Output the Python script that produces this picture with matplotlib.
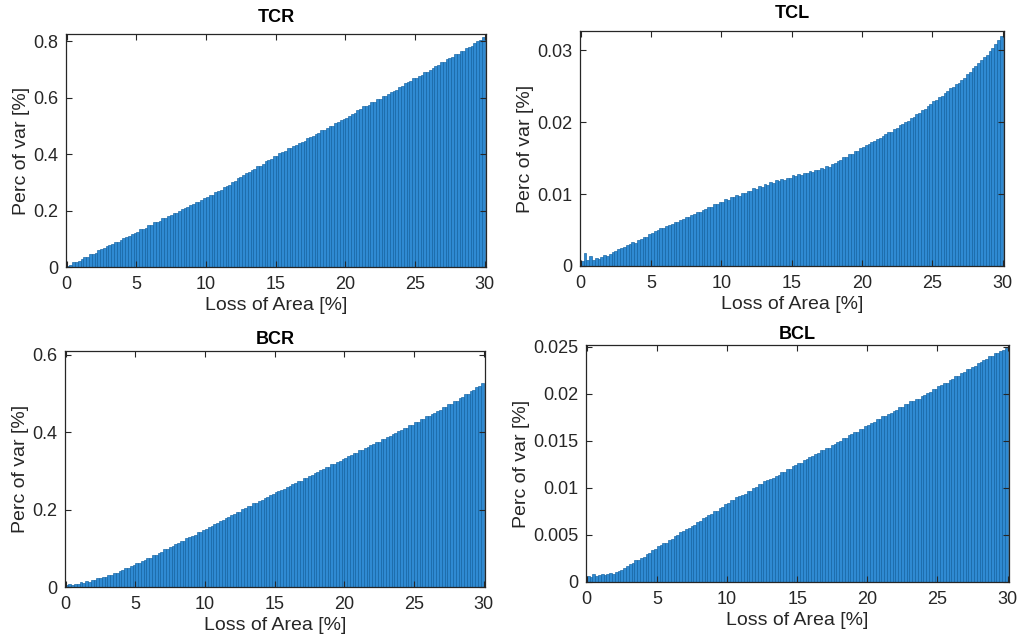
import numpy as np
import matplotlib
matplotlib.use("Agg")
import matplotlib.pyplot as plt
from matplotlib.ticker import FixedLocator, FuncFormatter

plt.rcParams['font.family'] = ['Liberation Sans', 'DejaVu Sans']

# bin centres (Loss of Area [%]), width 0.2
loss_area = np.arange(0.1, 30.0, 0.2)

titles = ["TCR", "TCL", "BCR", "BCL"]
xlabel = "Loss of Area [%]"
ylabel = "Perc of var [%]"

tcr = [
    0.005, 0.008, 0.016, 0.017, 0.021, 0.030, 0.034, 0.037, 0.046, 0.046, 0.050, 0.059, 0.063, 0.066, 0.075,
    0.078, 0.080, 0.089, 0.090, 0.095, 0.104, 0.107, 0.109, 0.118, 0.119, 0.123, 0.133, 0.136, 0.139, 0.148,
    0.149, 0.158, 0.160, 0.163, 0.172, 0.173, 0.181, 0.183, 0.192, 0.193, 0.197, 0.206, 0.209, 0.212, 0.221,
    0.222, 0.231, 0.232, 0.237, 0.246, 0.247, 0.255, 0.257, 0.267, 0.268, 0.273, 0.284, 0.287, 0.291, 0.301,
    0.306, 0.314, 0.318, 0.325, 0.333, 0.336, 0.345, 0.349, 0.358, 0.359, 0.365, 0.375, 0.379, 0.383, 0.393,
    0.395, 0.405, 0.407, 0.411, 0.421, 0.421, 0.430, 0.433, 0.441, 0.443, 0.447, 0.457, 0.461, 0.463, 0.473,
    0.475, 0.485, 0.487, 0.491, 0.501, 0.501, 0.510, 0.513, 0.521, 0.523, 0.529, 0.537, 0.541, 0.545, 0.555,
    0.559, 0.569, 0.571, 0.575, 0.585, 0.585, 0.594, 0.597, 0.605, 0.607, 0.613, 0.621, 0.625, 0.629, 0.639,
    0.643, 0.653, 0.655, 0.659, 0.669, 0.671, 0.678, 0.681, 0.691, 0.691, 0.697, 0.707, 0.711, 0.715, 0.725,
    0.727, 0.737, 0.741, 0.743, 0.755, 0.755, 0.765, 0.767, 0.777, 0.779, 0.785, 0.795, 0.801, 0.805, 0.815,
]

tcl = [
    0.0007, 0.0018, 0.0008, 0.0014, 0.0009, 0.0011, 0.0010, 0.0013, 0.0015, 0.0014, 0.0017, 0.0019, 0.0021, 0.0024, 0.0025,
    0.0027, 0.0029, 0.0030, 0.0033, 0.0032, 0.0036, 0.0037, 0.0041, 0.0041, 0.0045, 0.0046, 0.0049, 0.0050, 0.0053, 0.0053,
    0.0056, 0.0057, 0.0058, 0.0061, 0.0061, 0.0064, 0.0065, 0.0068, 0.0068, 0.0071, 0.0072, 0.0075, 0.0075, 0.0078, 0.0079,
    0.0082, 0.0082, 0.0086, 0.0086, 0.0089, 0.0089, 0.0093, 0.0092, 0.0096, 0.0096, 0.0099, 0.0098, 0.0102, 0.0101, 0.0105,
    0.0104, 0.0108, 0.0107, 0.0111, 0.0110, 0.0114, 0.0113, 0.0117, 0.0116, 0.0119, 0.0118, 0.0121, 0.0120, 0.0123, 0.0122,
    0.0126, 0.0125, 0.0128, 0.0127, 0.0130, 0.0129, 0.0132, 0.0131, 0.0134, 0.0133, 0.0136, 0.0135, 0.0139, 0.0138, 0.0142,
    0.0143, 0.0146, 0.0147, 0.0151, 0.0152, 0.0156, 0.0156, 0.0160, 0.0160, 0.0164, 0.0165, 0.0168, 0.0170, 0.0173, 0.0174,
    0.0177, 0.0178, 0.0181, 0.0183, 0.0186, 0.0187, 0.0191, 0.0192, 0.0196, 0.0197, 0.0201, 0.0202, 0.0206, 0.0207, 0.0211,
    0.0213, 0.0217, 0.0219, 0.0223, 0.0225, 0.0229, 0.0231, 0.0235, 0.0237, 0.0241, 0.0243, 0.0247, 0.0249, 0.0253, 0.0255,
    0.0259, 0.0262, 0.0267, 0.0270, 0.0275, 0.0278, 0.0283, 0.0286, 0.0291, 0.0294, 0.0299, 0.0303, 0.0309, 0.0315, 0.0320,
]

bcr = [
    0.004, 0.007, 0.005, 0.009, 0.008, 0.012, 0.011, 0.015, 0.014, 0.018, 0.018, 0.022, 0.022, 0.027, 0.027,
    0.032, 0.032, 0.037, 0.037, 0.042, 0.043, 0.048, 0.049, 0.054, 0.056, 0.061, 0.062, 0.068, 0.069, 0.075,
    0.076, 0.082, 0.084, 0.089, 0.091, 0.097, 0.098, 0.104, 0.106, 0.111, 0.113, 0.119, 0.120, 0.126, 0.128,
    0.133, 0.135, 0.141, 0.142, 0.148, 0.150, 0.155, 0.157, 0.163, 0.165, 0.171, 0.172, 0.178, 0.180, 0.186,
    0.188, 0.194, 0.195, 0.201, 0.203, 0.209, 0.210, 0.216, 0.218, 0.223, 0.225, 0.231, 0.232, 0.238, 0.240,
    0.245, 0.247, 0.252, 0.254, 0.259, 0.261, 0.267, 0.268, 0.274, 0.275, 0.281, 0.283, 0.288, 0.290, 0.295,
    0.297, 0.302, 0.304, 0.310, 0.311, 0.317, 0.318, 0.324, 0.326, 0.331, 0.333, 0.338, 0.340, 0.346, 0.347,
    0.353, 0.354, 0.360, 0.362, 0.367, 0.369, 0.374, 0.376, 0.382, 0.383, 0.389, 0.390, 0.396, 0.398, 0.403,
    0.405, 0.411, 0.412, 0.418, 0.420, 0.426, 0.427, 0.433, 0.435, 0.441, 0.442, 0.448, 0.450, 0.456, 0.458,
    0.464, 0.466, 0.472, 0.474, 0.480, 0.482, 0.489, 0.491, 0.498, 0.500, 0.507, 0.509, 0.517, 0.520, 0.528,
]

bcl = [
    0.0006, 0.0005, 0.0009, 0.0006, 0.0007, 0.0008, 0.0007, 0.0009, 0.0010, 0.0009, 0.0011, 0.0012, 0.0013, 0.0015, 0.0017,
    0.0019, 0.0020, 0.0023, 0.0023, 0.0026, 0.0027, 0.0030, 0.0031, 0.0034, 0.0035, 0.0038, 0.0039, 0.0042, 0.0042, 0.0045,
    0.0046, 0.0049, 0.0050, 0.0053, 0.0054, 0.0056, 0.0057, 0.0060, 0.0061, 0.0064, 0.0065, 0.0068, 0.0069, 0.0071, 0.0072,
    0.0075, 0.0076, 0.0079, 0.0080, 0.0083, 0.0084, 0.0087, 0.0087, 0.0090, 0.0091, 0.0093, 0.0094, 0.0097, 0.0097, 0.0100,
    0.0101, 0.0104, 0.0104, 0.0107, 0.0108, 0.0110, 0.0111, 0.0113, 0.0114, 0.0117, 0.0117, 0.0120, 0.0120, 0.0123, 0.0124,
    0.0127, 0.0127, 0.0130, 0.0131, 0.0133, 0.0134, 0.0136, 0.0137, 0.0140, 0.0140, 0.0143, 0.0143, 0.0146, 0.0147, 0.0149,
    0.0150, 0.0153, 0.0153, 0.0156, 0.0157, 0.0159, 0.0160, 0.0163, 0.0163, 0.0166, 0.0167, 0.0169, 0.0170, 0.0173, 0.0173,
    0.0176, 0.0177, 0.0179, 0.0180, 0.0182, 0.0183, 0.0186, 0.0186, 0.0189, 0.0189, 0.0192, 0.0192, 0.0195, 0.0195, 0.0198,
    0.0199, 0.0201, 0.0202, 0.0205, 0.0205, 0.0208, 0.0209, 0.0212, 0.0212, 0.0215, 0.0216, 0.0219, 0.0219, 0.0222, 0.0223,
    0.0226, 0.0226, 0.0229, 0.0230, 0.0233, 0.0234, 0.0236, 0.0237, 0.0240, 0.0240, 0.0243, 0.0244, 0.0246, 0.0247, 0.0249,
]

series = [tcr, tcl, bcr, bcl]
yticks = [
    [0, 0.2, 0.4, 0.6, 0.8],
    [0, 0.01, 0.02, 0.03],
    [0, 0.2, 0.4, 0.6],
    [0, 0.005, 0.01, 0.015, 0.02, 0.025],
]
ylims = [(0, 0.826), (0, 0.0327), (0, 0.61), (0, 0.0252)]
xticks = [0, 5, 10, 15, 20, 25, 30]
title_pads = [9.0, 9.0, 5.0, 4.0]

W, H = 1022, 641
# axes boxes in pixels: left, top, right, bottom
boxes = [
    (66, 34, 486, 267),
    (580, 31, 1004, 266),
    (65, 351, 485, 587),
    (586, 345, 1009, 582),
]

FACE = '#2F8AD2'
EDGE = '#10609F'
AX = '#262626'

fig = plt.figure(figsize=(W / 100, H / 100), dpi=100)
for i in range(4):
    l, t, r, b = boxes[i]
    ax = fig.add_axes([l / W, 1 - b / H, (r - l) / W, (b - t) / H])
    ax.bar(loss_area, series[i], width=0.2, align='center',
           color=FACE, edgecolor=EDGE, linewidth=0.45)
    ax.set_xlim(-0.05, 30.1)
    ax.set_ylim(*ylims[i])
    ax.xaxis.set_major_locator(FixedLocator(xticks))
    ax.yaxis.set_major_locator(FixedLocator(yticks[i]))
    ax.yaxis.set_major_formatter(FuncFormatter(lambda v, p: '%g' % v))
    ax.xaxis.set_major_formatter(FuncFormatter(lambda v, p: '%g' % v))
    ax.tick_params(direction='in', length=4, width=0.8, colors=AX,
                   labelsize=13, top=True, right=True)
    ax.tick_params(axis='x', pad=6.5)
    ax.tick_params(axis='y', pad=5.5)
    for s in ax.spines.values():
        s.set_color(AX)
        s.set_linewidth(0.9)
    ax.set_xlabel(xlabel, fontsize=14, color=AX, labelpad=3)
    ax.set_ylabel(ylabel, fontsize=14, color=AX, labelpad=2)
    ax.set_title(titles[i], fontsize=13, fontweight='bold', color='black',
                 pad=title_pads[i])

fig.savefig('out.png', dpi=100)
